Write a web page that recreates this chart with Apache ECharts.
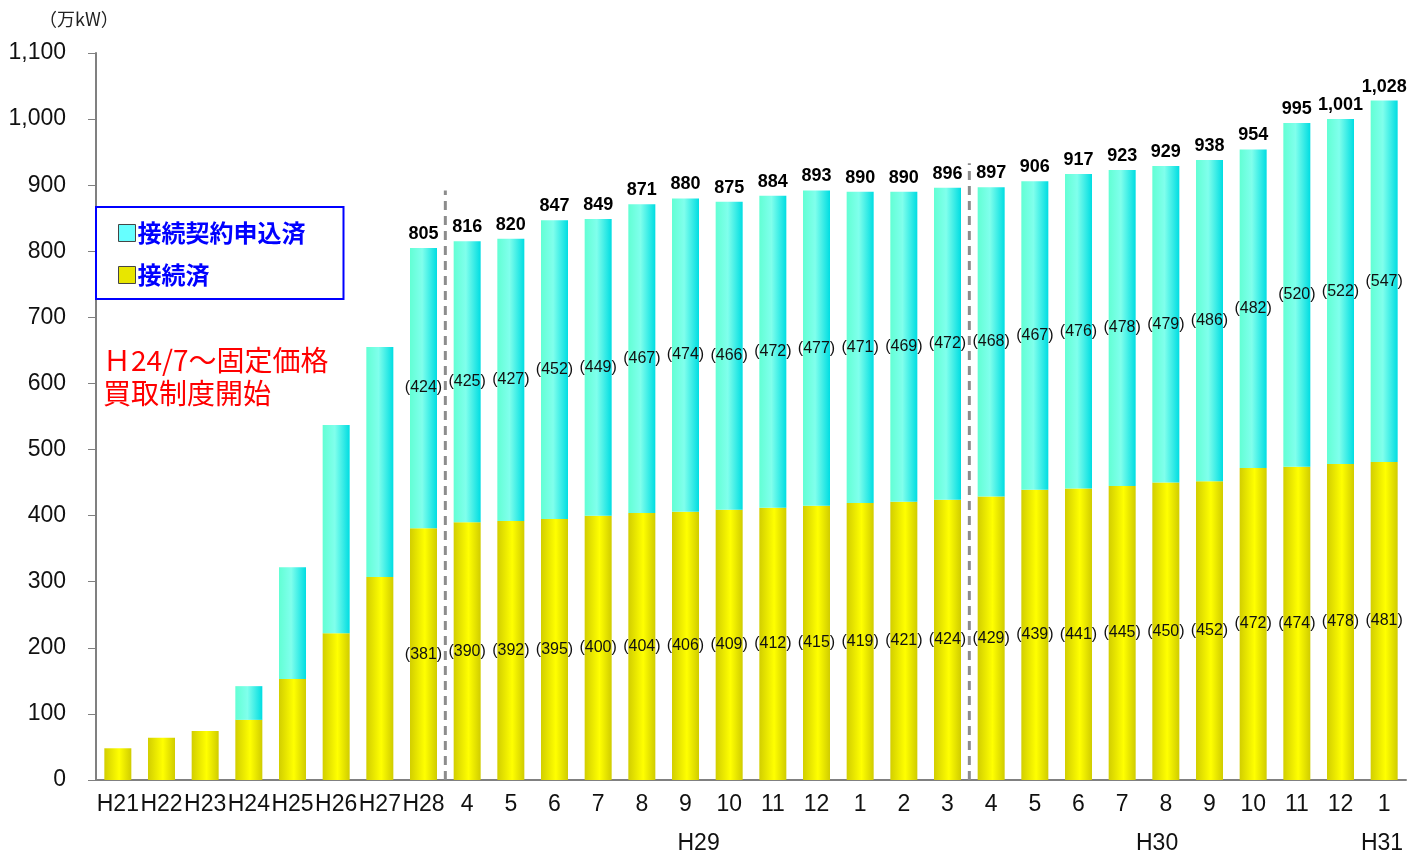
<!DOCTYPE html>
<html>
<head>
<meta charset="utf-8">
<script src="https://cdn.jsdelivr.net/npm/echarts@6/dist/echarts.min.js"></script>
<style>
  html, body { margin: 0; padding: 0; background: #fff; }
  #chart { width: 1427px; height: 855px; }
</style>
</head>
<body>
<div id="chart"></div>
<script>
// categories (fiscal years, then months)
const categories = ['H21', 'H22', 'H23', 'H24', 'H25', 'H26', 'H27', 'H28',
    '4', '5', '6', '7', '8', '9', '10', '11', '12', '1', '2', '3',
    '4', '5', '6', '7', '8', '9', '10', '11', '12', '1'];

// 接続済
const connected = [48, 64, 74, 91, 153, 222, 307, 381,
    390, 392, 395, 400, 404, 406, 409, 412, 415, 419, 421, 424,
    429, 439, 441, 445, 450, 452, 472, 474, 478, 481];

// 接続契約申込済
const applied = [0, 0, 0, 51, 169, 315, 348, 424,
    425, 427, 452, 449, 467, 474, 466, 472, 477, 471, 469, 472,
    468, 467, 476, 478, 479, 486, 482, 520, 522, 547];

// totals shown above bars (null = no label)
const totals = [null, null, null, null, null, null, null, 805,
    816, 820, 847, 849, 871, 880, 875, 884, 893, 890, 890, 896,
    897, 906, 917, 923, 929, 938, 954, 995, 1001, 1028];

// inner labels start from this index
const labelFrom = 7;

// year groups under the month labels
const yearLabels = ['H29', 'H30', 'H31'];
const yearPos = [13.8, 24.3, 29.45];

// dashed dividers between fiscal years
const dividerPos = [8, 20];
const dividerTop = [892, 933];

const yellowGrad = new echarts.graphic.LinearGradient(0, 0, 1, 0, [
    {offset: 0, color: '#d2ce00'},
    {offset: 0.55, color: '#ffff00'},
    {offset: 1, color: '#d0cc00'}
]);
const cyanGrad = new echarts.graphic.LinearGradient(0, 0, 1, 0, [
    {offset: 0, color: '#62ffd4'},
    {offset: 0.45, color: '#80ffec'},
    {offset: 1, color: '#00dde2'}
]);

const fmtNum = v => v.toLocaleString('en-US');
const innerLabel = p => p.dataIndex >= labelFrom ? '(' + p.value + ')' : '';

const dividerSeries = dividerPos.map((x, i) => ({
    type: 'line',
    xAxisIndex: 1,
    yAxisIndex: 0,
    data: [[x, 0], [x, dividerTop[i]]],
    symbol: 'none',
    silent: true,
    lineStyle: {color: '#8c8c8c', width: 3, type: [9, 6]},
    z: 5
}));

const chart = echarts.init(document.getElementById('chart'));

const option = {
    animation: false,
    textStyle: {fontFamily: 'Liberation Sans, Arial, sans-serif'},
    title: {
        text: '（万kW）',
        left: 34,
        top: 5,
        textStyle: {fontFamily: 'Noto Sans CJK JP', fontSize: 18, fontWeight: 'normal', color: '#222'}
    },
    grid: {left: 96, right: 21, top: 53, bottom: 75},
    legend: {
        orient: 'vertical',
        left: 96,
        top: 207,
        padding: [14, 38, 12, 22],
        itemGap: 18,
        itemWidth: 17,
        itemHeight: 17,
        icon: 'rect',
        borderColor: '#0000ff',
        borderWidth: 2,
        backgroundColor: '#fff',
        textStyle: {fontFamily: 'Noto Sans CJK JP', fontSize: 24, fontWeight: 'bold', color: '#0000ff', padding: [0, 0, 0, -3]},
        data: [
            {name: '接続契約申込済', itemStyle: {color: '#66ffff', borderColor: '#444', borderWidth: 1}},
            {name: '接続済', itemStyle: {color: '#e8e600', borderColor: '#444', borderWidth: 1}}
        ]
    },
    graphic: [{
        type: 'text',
        left: 103,
        top: 344,
        style: {
            text: 'Ｈ24/7～固定価格\n買取制度開始',
            font: '28px "Noto Sans CJK JP"',
            lineHeight: 33,
            fill: '#ff0000'
        }
    }],
    xAxis: [{
        type: 'category',
        data: categories,
        axisLine: {lineStyle: {color: '#808080', width: 2}},
        axisTick: {length: 8, lineStyle: {color: '#808080', width: 1}},
        axisLabel: {
            interval: 0,
            margin: 13,
            fontFamily: 'Liberation Sans Narrow, Arial Narrow, Arial, sans-serif',
            fontSize: 23,
            color: '#111'
        }
    }, {
        type: 'value',
        min: 0,
        max: 30,
        position: 'bottom',
        axisLine: {show: false},
        axisTick: {show: false},
        splitLine: {show: false},
        axisLabel: {
            customValues: yearPos,
            margin: 52,
            fontFamily: 'Liberation Sans Narrow, Arial Narrow, Arial, sans-serif',
            fontSize: 23,
            color: '#111',
            formatter: v => yearLabels[yearPos.indexOf(v)] || ''
        }
    }],
    yAxis: {
        type: 'value',
        min: 0,
        max: 1100,
        interval: 100,
        axisLine: {show: true, lineStyle: {color: '#808080', width: 2}},
        axisTick: {show: true, length: 8, lineStyle: {color: '#808080'}},
        splitLine: {show: false},
        axisLabel: {
            margin: 30,
            fontSize: 23,
            color: '#111',
            formatter: v => fmtNum(v)
        }
    },
    series: [{
        name: '接続済',
        type: 'bar',
        stack: 'total',
        barWidth: 27,
        data: connected,
        itemStyle: {color: yellowGrad},
        label: {
            show: true,
            position: 'inside',
            fontSize: 16,
            color: '#111',
            formatter: innerLabel
        }
    }, {
        name: '接続契約申込済',
        type: 'bar',
        stack: 'total',
        barWidth: 27,
        data: applied,
        itemStyle: {color: cyanGrad},
        label: {
            show: true,
            position: 'inside',
            fontSize: 16,
            color: '#111',
            formatter: innerLabel
        }
    }, {
        // totals, drawn as labels on top of the stack
        name: 'total',
        type: 'bar',
        stack: 'total',
        barWidth: 27,
        data: totals.map(() => 0),
        itemStyle: {color: 'transparent'},
        label: {
            show: true,
            position: 'top',
            distance: 5,
            fontSize: 18,
            fontWeight: 'bold',
            color: '#000',
            formatter: p => totals[p.dataIndex] == null ? '' : fmtNum(totals[p.dataIndex])
        }
    }].concat(dividerSeries)
};

chart.setOption(option);
</script>
</body>
</html>
